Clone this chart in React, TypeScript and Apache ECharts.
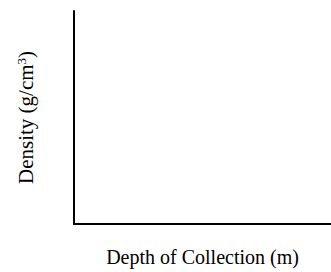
import React, { useEffect, useRef } from "react";
import * as echarts from "echarts";

const xAxisTitle = "Depth of Collection (m)";
const yAxisTitle = "Density (g/cm{sup|3})";
const depths: number[] = [];
const densities: number[] = [];

export default function App() {
  const ref = useRef<HTMLDivElement>(null);
  useEffect(() => {
    if (!ref.current) return;
    const chart = echarts.init(ref.current, undefined, { renderer: "svg" });
    const font = "'Liberation Serif', 'Times New Roman', serif";
    const axisBase = {
      type: "value" as const,
      min: 0,
      max: 10,
      axisLine: { show: true, lineStyle: { color: "#000", width: 2 } },
      axisTick: { show: false },
      axisLabel: { show: false },
      splitLine: { show: false },
      nameLocation: "middle" as const,
    };
    chart.setOption({
      animation: false,
      grid: { left: 74, top: 11, right: 0, bottom: 45 },
      xAxis: {
        ...axisBase,
        name: xAxisTitle,
        nameGap: 23,
        nameTextStyle: { color: "#000", fontSize: 20, fontFamily: font },
      },
      yAxis: {
        ...axisBase,
        name: yAxisTitle,
        nameGap: 37,
        nameRotate: 90,
        nameTextStyle: {
          color: "#000",
          fontSize: 21,
          lineHeight: 22,
          fontFamily: font,
          rich: {
            sup: {
              color: "#000",
              fontSize: 13,
              lineHeight: 22,
              fontFamily: font,
              verticalAlign: "top",
              padding: [0, 0, 8, 0],
            },
          },
        },
      },
      series: [
        {
          type: "scatter",
          data: depths.map((d, i) => [d, densities[i]]),
        },
      ],
    });
    return () => chart.dispose();
  }, []);
  return (
    <div
      ref={ref}
      style={{ position: "absolute", left: 0, top: 0, width: 331, height: 272 }}
    />
  );
}
